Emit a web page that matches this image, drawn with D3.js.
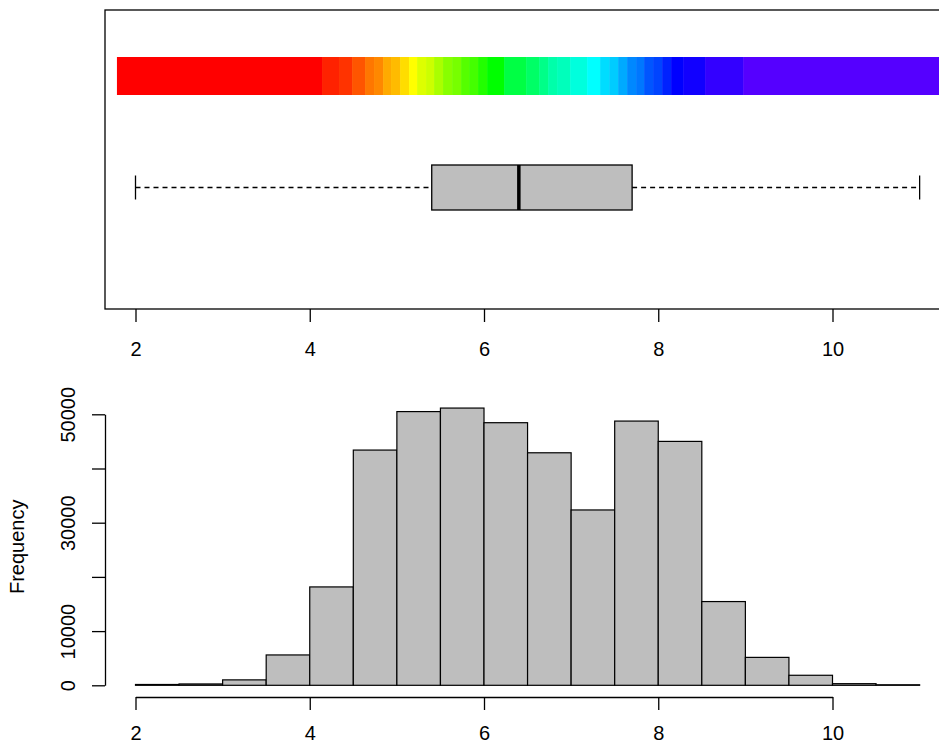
<!DOCTYPE html>
<html><head><meta charset="utf-8">
<script src="https://cdn.jsdelivr.net/npm/d3@7"></script>
<style>
html,body{margin:0;padding:0;background:#fff;}
svg{display:block;font-family:"Liberation Sans",Arial,sans-serif;}
</style></head>
<body><svg id="chart" width="939" height="743"></svg>
<script>
// ---------- data ----------
const xTicks = [2, 4, 6, 8, 10];
// colour strip: segment boundaries (data units) and segment colours
const stripBreaks = [1.787, 4.141, 4.336, 4.486, 4.635, 4.738, 4.842, 4.933, 5.037, 5.140, 5.232,
  5.335, 5.427, 5.530, 5.634, 5.737, 5.829, 5.932, 6.036, 6.231, 6.484, 6.633, 6.736, 6.839,
  6.989, 7.184, 7.333, 7.437, 7.540, 7.643, 7.746, 7.838, 7.941, 8.045, 8.148, 8.286, 8.538, 8.975, 11.4];
const stripColors = ["#ff0000","#ff2200","#ff3300","#ff5500","#ff7700","#ff8800","#ffaa00","#ffbb00",
  "#ffdd00","#ffff00","#ddff00","#ccff00","#aaff00","#88ff00","#77ff00","#55ff00","#44ff00","#22ff00",
  "#00ff00","#00ff44","#00ff66","#00ff88","#00ffaa","#00ffbb","#00ffdd","#00ffff","#00ddff","#00ccff",
  "#00aaff","#0088ff","#0077ff","#0055ff","#0044ff","#0022ff","#0000ff","#1100ff","#3300ff","#5500ff"];
// boxplot five-number summary
const boxStats = {min: 2, q1: 5.4, median: 6.4, q3: 7.7, max: 11};
// histogram
const binEdges = [2, 2.5, 3, 3.5, 4, 4.5, 5, 5.5, 6, 6.5, 7, 7.5, 8, 8.5, 9, 9.5, 10, 10.5, 11];
const binCounts = [150, 250, 1000, 5600, 18150, 43400, 50500, 51150, 48450, 42900, 32350, 48750, 45000, 15450, 5150, 1850, 300, 100];
const yTicks = [0, 10000, 20000, 30000, 40000, 50000];
const yLabels = [0, 10000, 30000, 50000];

// ---------- drawing ----------
const svg = d3.select("#chart");
const FS = 20;
const x = d3.scaleLinear().domain([2, 10]).range([135.5, 832.5]);

// top panel
const topP = {l: 105, t: 10, b: 309, r: 960};
svg.append("g").selectAll("rect").data(stripColors).join("rect")
  .attr("x", (d, i) => x(stripBreaks[i]))
  .attr("width", (d, i) => x(stripBreaks[i + 1]) - x(stripBreaks[i]) + 0.5)
  .attr("y", 57).attr("height", 38)
  .attr("fill", d => d);

const by = 187.5;
const bp = svg.append("g").attr("stroke", "#000").attr("stroke-width", 1.3);
bp.append("line").attr("x1", x(boxStats.min)).attr("x2", x(boxStats.q1)).attr("y1", by).attr("y2", by).attr("stroke-dasharray", "5,4");
bp.append("line").attr("x1", x(boxStats.q3)).attr("x2", x(boxStats.max)).attr("y1", by).attr("y2", by).attr("stroke-dasharray", "5,4");
bp.append("line").attr("x1", x(boxStats.min)).attr("x2", x(boxStats.min)).attr("y1", 175.5).attr("y2", 199.5);
bp.append("line").attr("x1", x(boxStats.max)).attr("x2", x(boxStats.max)).attr("y1", 175.5).attr("y2", 199.5);
bp.append("rect").attr("x", x(boxStats.q1)).attr("width", x(boxStats.q3) - x(boxStats.q1))
  .attr("y", 165).attr("height", 45).attr("fill", "#bebebe");
bp.append("line").attr("x1", x(boxStats.median)).attr("x2", x(boxStats.median)).attr("y1", 165).attr("y2", 210).attr("stroke-width", 3.5);

svg.append("rect").attr("x", topP.l).attr("y", topP.t).attr("width", topP.r - topP.l).attr("height", topP.b - topP.t)
  .attr("fill", "none").attr("stroke", "#000").attr("stroke-width", 1.3);

const axTop = svg.append("g").attr("transform", `translate(0,${topP.b})`)
  .call(d3.axisBottom(x).tickValues(xTicks).tickSize(13).tickPadding(0).tickFormat(d3.format("d")));
axTop.select(".domain").remove();
axTop.selectAll(".tick line").attr("stroke-width", 1.3);
axTop.selectAll(".tick text").attr("font-size", FS).attr("font-family", "Liberation Sans, Arial, sans-serif")
  .attr("y", 40).attr("dy", "0.35em").attr("fill", "#000");

// histogram
const y = d3.scaleLinear().domain([0, 50000]).range([685.3, 414.3]);
svg.append("g").selectAll("rect").data(binCounts).join("rect")
  .attr("x", (d, i) => x(binEdges[i]))
  .attr("width", (d, i) => x(binEdges[i + 1]) - x(binEdges[i]))
  .attr("y", d => y(d)).attr("height", d => y(0) - y(d))
  .attr("fill", "#bebebe").attr("stroke", "#000").attr("stroke-width", 1.2);

const axX = svg.append("g").attr("transform", "translate(0,697)")
  .call(d3.axisBottom(x).tickValues(xTicks).tickSize(13).tickSizeOuter(0).tickPadding(0).tickFormat(d3.format("d")));
axX.select(".domain").attr("stroke-width", 1.3);
axX.selectAll(".tick line").attr("stroke-width", 1.3);
axX.selectAll(".tick text").attr("font-size", FS).attr("font-family", "Liberation Sans, Arial, sans-serif")
  .attr("y", 36).attr("dy", "0.35em").attr("fill", "#000");

const axY = svg.append("g").attr("transform", "translate(105,0)")
  .call(d3.axisLeft(y).tickValues(yTicks).tickSize(13).tickSizeOuter(0).tickFormat(d => yLabels.includes(d) ? d3.format("d")(d) : ""));
axY.select(".domain").attr("stroke-width", 1.3);
axY.selectAll(".tick line").attr("stroke-width", 1.3);
axY.selectAll(".tick text").attr("font-size", FS).attr("font-family", "Liberation Sans, Arial, sans-serif")
  .attr("fill", "#000").attr("text-anchor", "middle").attr("x", 0).attr("dy", "0.35em")
  .attr("transform", "translate(-37,0) rotate(-90)");

svg.append("text").text("Frequency").attr("font-size", FS)
  .attr("text-anchor", "middle").attr("dy", "0.35em")
  .attr("transform", `translate(17,${(y(0) + y(50000)) / 2 - 3}) rotate(-90)`);
</script></body></html>
